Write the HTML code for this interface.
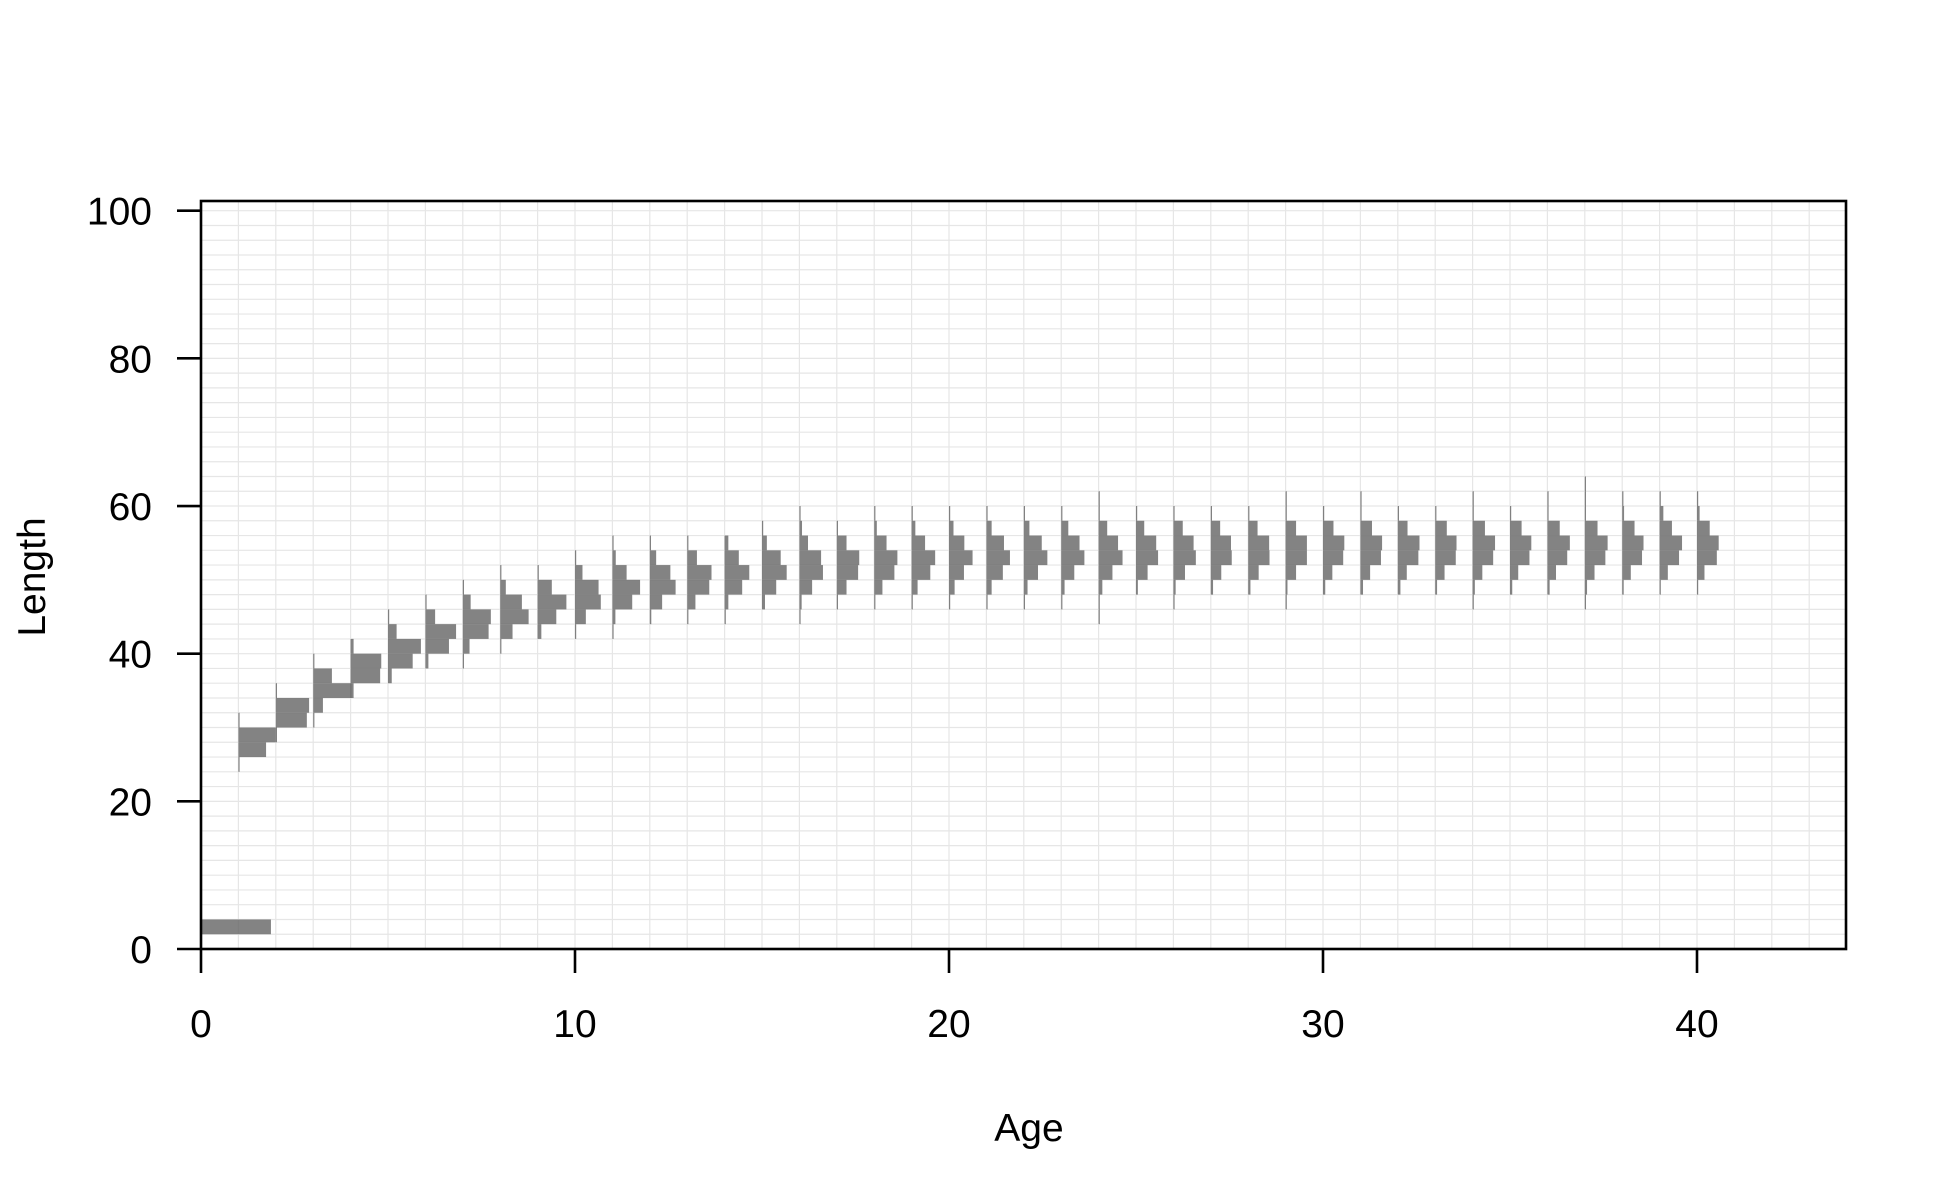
<!DOCTYPE html>
<html><head><meta charset="utf-8"><style>
html,body{margin:0;padding:0;background:#fff;}
svg{display:block;font-family:"Liberation Sans",Arial,sans-serif;}
</style></head><body>
<svg id="chart" width="1950" height="1200" viewBox="0 0 1950 1200" xmlns="http://www.w3.org/2000/svg">
<rect width="1950" height="1200" fill="#fff"/>
<g id="grid"></g>
<g id="bars"></g>
<g id="axes"></g>
</svg>
<script>
const ages = [0,1,2,3,4,5,6,7,8,9,10,11,12,13,14,15,16,17,18,19,20,21,22,23,24,25,26,27,28,29,30,31,32,33,34,35,36,37,38,39,40];
const binStarts = [2,24,28,30,34,36,38,38,40,42,42,42,44,44,44,46,44,46,46,46,46,46,46,46,44,48,46,48,48,46,48,48,48,48,46,48,48,46,48,48,48];
const binWidth = 2;
const proportions = [
 [1.87],
 [0.03,0.74,1.0,0.03],
 [0.03,0.83,0.89,0.03],
 [0.03,0.26,1.02,0.5,0.03],
 [0.08,0.79,0.82,0.08],
 [0.1,0.66,0.88,0.23,0.02],
 [0.08,0.63,0.82,0.26,0.02],
 [0.02,0.18,0.69,0.75,0.21,0.02],
 [0.03,0.33,0.76,0.58,0.15,0.02],
 [0.1,0.5,0.77,0.38,0.02],
 [0.03,0.29,0.69,0.63,0.2,0.02],
 [0.02,0.08,0.53,0.74,0.38,0.09,0.02],
 [0.04,0.33,0.69,0.55,0.17,0.02],
 [0.02,0.22,0.59,0.65,0.26,0.02],
 [0.02,0.1,0.47,0.66,0.38,0.1],
 [0.08,0.38,0.66,0.5,0.13,0.02],
 [0.02,0.06,0.34,0.63,0.58,0.23,0.07,0.02],
 [0.03,0.26,0.57,0.6,0.26,0.03],
 [0.03,0.22,0.54,0.62,0.33,0.07,0.02],
 [0.02,0.16,0.5,0.63,0.36,0.1,0.02],
 [0.02,0.15,0.4,0.63,0.41,0.12,0.02],
 [0.02,0.14,0.44,0.63,0.47,0.14,0.02],
 [0.02,0.1,0.38,0.63,0.48,0.15,0.02],
 [0.02,0.09,0.35,0.62,0.49,0.19,0.02],
 [0.01,0.01,0.1,0.37,0.64,0.52,0.23,0.02,0.01],
 [0.05,0.31,0.59,0.54,0.22,0.02],
 [0.01,0.06,0.31,0.6,0.54,0.25,0.02],
 [0.06,0.28,0.56,0.54,0.25,0.02],
 [0.06,0.28,0.57,0.56,0.25,0.02],
 [0.01,0.05,0.28,0.57,0.57,0.28,0.02,0.01],
 [0.06,0.25,0.54,0.57,0.28,0.02],
 [0.07,0.26,0.55,0.58,0.31,0.02,0.01],
 [0.07,0.24,0.55,0.58,0.26,0.02],
 [0.05,0.25,0.55,0.57,0.31,0.02],
 [0.01,0.06,0.26,0.55,0.6,0.33,0.02,0.01],
 [0.06,0.22,0.52,0.57,0.31,0.02],
 [0.06,0.23,0.53,0.6,0.33,0.02,0.01],
 [0.01,0.06,0.26,0.55,0.61,0.34,0.02,0.01,0.01],
 [0.04,0.23,0.53,0.57,0.33,0.05,0.01],
 [0.03,0.22,0.52,0.6,0.33,0.1,0.01],
 [0.03,0.2,0.53,0.58,0.34,0.07,0.01]
];
const xTicks = [0,10,20,30,40];
const yTicks = [0,20,40,60,80,100];

const NS = "http://www.w3.org/2000/svg";
const L = 201, R = 1846, T = 201, B = 949;
const xScale = v => 201 + v * 37.4;
const yScale = v => 949 - v * 7.383;
function mk(tag, attrs, parent){
  const e = document.createElementNS(NS, tag);
  for (const k in attrs) e.setAttribute(k, attrs[k]);
  parent.appendChild(e);
  return e;
}
const grid = document.getElementById('grid');
for (let a = 0; a <= 44; a++) {
  const ln = mk('line', {x1: xScale(a), x2: xScale(a), y1: T, y2: B, stroke: '#e6e6e6', 'stroke-width': 1.2}, grid);
  
  
}
for (let v = 0; v <= 100; v += 2) {
  const ln = mk('line', {x1: L, x2: R, y1: yScale(v), y2: yScale(v), stroke: '#e6e6e6', 'stroke-width': 1.2}, grid);
  
  
}
const bars = document.getElementById('bars');
ages.forEach((age, i) => {
  proportions[i].forEach((p, j) => {
    const lo = binStarts[i] + j * binWidth;
    const x0 = xScale(age), x1 = xScale(age + p);
    const y0 = yScale(lo + binWidth), y1 = yScale(lo);
    const r = mk('rect', {x: x0, y: y0, width: Math.max(x1 - x0, 1.2), height: y1 - y0, fill: 'rgba(100,100,100,0.8)'}, bars);
    
    
  });
});
const axes = document.getElementById('axes');
const box = mk('rect', {x: L, y: T, width: R - L, height: B - T, fill: 'none', stroke: '#000', 'stroke-width': 2.6}, axes);


xTicks.forEach(t => {
  const tk = mk('line', {x1: xScale(t), x2: xScale(t), y1: B, y2: B + 24, stroke: '#000', 'stroke-width': 2.6}, axes);
  
  
  const lb = mk('text', {x: xScale(t), y: 1037, 'font-size': 39, 'text-anchor': 'middle', fill: '#000'}, axes);
  lb.textContent = t;
  
  
});
yTicks.forEach(t => {
  const tk = mk('line', {x1: L - 24, x2: L, y1: yScale(t), y2: yScale(t), stroke: '#000', 'stroke-width': 2.6}, axes);
  
  
  const lb = mk('text', {x: 152, y: yScale(t) + 14, 'font-size': 39, 'text-anchor': 'end', fill: '#000'}, axes);
  lb.textContent = t;
  
  
});
const xt = mk('text', {x: 1029, y: 1141, 'font-size': 39, 'text-anchor': 'middle', fill: '#000'}, axes);
xt.textContent = 'Age';


const yt = mk('text', {x: 0, y: 0, 'font-size': 39, 'text-anchor': 'middle', fill: '#000', transform: 'translate(45,577) rotate(-90)'}, axes);
yt.textContent = 'Length';


</script>
</body></html>
